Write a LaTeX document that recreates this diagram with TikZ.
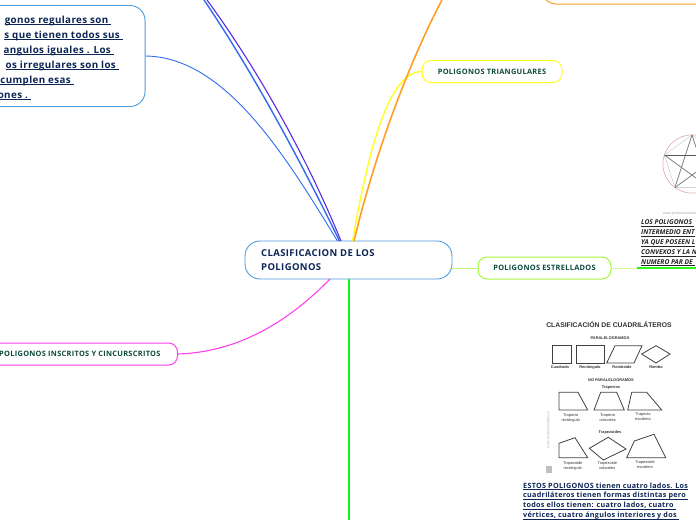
\documentclass[tikz,border=0pt]{standalone}
\usepackage{fontspec}
\usetikzlibrary{calc}
\setmainfont{Open Sans}
\newfontfamily\spacedfont[LetterSpace=4]{Open Sans}
\newfontfamily\imgfont{Liberation Sans}
\definecolor{edgeblue}{HTML}{4F9BD9}
\definecolor{linkblue}{HTML}{2F6BF0}
\definecolor{linkviolet}{HTML}{5A2BE6}
\definecolor{linkorange}{HTML}{FF9E24}
\definecolor{linkyellow}{HTML}{FFFF22}
\definecolor{linklime}{HTML}{A2F53C}
\definecolor{linkpink}{HTML}{FF40EE}
\definecolor{linkgreen}{HTML}{11F51A}
\definecolor{navytext}{HTML}{0C2555}
\definecolor{pinetext}{HTML}{0D4A3C}
\def\ultxt#1{\setbox0\hbox{#1}\rlap{\vrule width\wd0 height-1.3pt depth2pt}\box0}
\tikzset{
  mainbox/.style={draw=edgeblue,fill=white,rounded corners=15pt,line width=.9pt,inner sep=0pt},
  subbox/.style={fill=white,rounded corners=9pt,line width=1pt,minimum height=22pt,inner sep=0pt,
    text=pinetext,font=\spacedfont\bfseries\fontsize{7.4}{9}\selectfont},
  noteline/.style={inner sep=0pt,text=navytext,font=\spacedfont\bfseries\fontsize{9.8}{10}\selectfont},
  picline/.style={draw=black!75,line width=.8pt},
  piclabel/.style={inner sep=0pt,align=center,text=black!80,font=\imgfont\fontsize{3.9}{5}\selectfont},
}
\begin{document}
\begin{tikzpicture}[x=1pt,y=-1pt]
\useasboundingbox (0,0) rectangle (696,520);
\clip (0,0) rectangle (696,520);
\node[mainbox,minimum width=207pt,minimum height=38pt] (cen) at (348.5,260) {};
\node[anchor=west,inner sep=0pt,align=left,text=navytext,font=\spacedfont\bfseries\fontsize{9.5}{14.3}\selectfont] (centxt) at (261,260) {CLASIFICACION DE LOS\\POLIGONOS};
\node[mainbox,minimum width=200pt,minimum height=101pt,anchor=east] (regu) at (145.5,56) {};
\foreach \n/\ya/\xa/\tx in {a/23/111.5/gonos regulares son,b/38/123/s que tienen todos sus,c/53/114/angulos iguales . Los,d/68/119/os irregulares son los,e/83/74/cumplen esas,f/98/31/ones .}
  \node[noteline,anchor=base east] (regu\n) at (\xa,\ya) {\ultxt{\tx\ifx\n f\else\ \fi}};
\node[subbox,draw=linkyellow,minimum width=140pt] (trian) at (492,71.5) {POLIGONOS TRIANGULARES};
\node[subbox,draw=linklime,minimum width=133pt] (estre) at (544.5,268) {POLIGONOS ESTRELLADOS};
\node[subbox,draw=linkpink,inner xsep=17pt,anchor=east] (insc) at (178,354) {POLIGONOS INSCRITOS Y CINCURSCRITOS};
\node[draw=linkorange,fill=white,rounded corners=15pt,line width=1pt,minimum width=260pt,minimum height=60pt,anchor=south west] (arriba) at (541,4.5) {};
% enlaces
\coordinate (bluea) at (337.5,241);
\coordinate (blueb) at (339.5,241);
\coordinate (bluec) at (341,241);
\coordinate (yela) at (352.5,241);
\coordinate (oraa) at (354,241);
\coordinate (pinka) at (330,279);
\coordinate (gra) at (348.5,279);
\coordinate (topb) at (204,0);
\coordinate (topc) at (207,0);
\coordinate (topd) at (442,0);
\coordinate (bot) at (348.5,520);
\coordinate (starb) at (637,268);
\coordinate (stare) at (696,268);
\draw[linkblue,line width=.9pt] (regu.east) .. controls (225,57) and (285,155) .. (bluea);
\draw[linkblue,line width=1.4pt] (blueb) .. controls (305,170) and (255,75) .. (topb);
\draw[linkviolet,line width=1.1pt] (bluec) .. controls (310,165) and (262,75) .. (topc);
\draw[linkyellow,line width=1.4pt] (yela) .. controls (365,170) and (385,72) .. (trian.west);
\draw[linkorange,line width=1.6pt] (oraa) .. controls (372,165) and (405,70) .. (topd);
\draw[linkpink,line width=1.1pt] (insc.east) .. controls (240,352) and (290,320) .. (pinka);
\draw[linkgreen,line width=2pt] (gra) -- (bot);
\draw[linklime!70!white,line width=1pt] (cen.east |- estre.west) -- (estre.west);
\draw[linklime!50!white,line width=1pt] (estre.east) -- (starb);
\draw[linkgreen!85!lime,line width=1.4pt] (starb) -- (stare);
% estrella
\def\R{29.1}
\coordinate (pc) at (692,164);
\foreach \p/\ang in {pa/90,pb/162,pd/234,pe/306,pg/18}
  \coordinate (\p) at ($(pc)+({\R*cos(\ang)},{-\R*sin(\ang)})$);
\draw[red!60!black!30,line width=.7pt] (pc) circle (\R);
\draw[black!18,line width=.6pt] (pa) -- (pb) -- (pd) -- (pe) -- (pg) -- cycle;
\draw[black!50,line width=.8pt] (pa) -- (pd);
\draw[black!65,line width=.8pt] (pb) -- (pg);
\draw[black!50,line width=.8pt] (pb) -- (pe);
\draw[black!50,line width=.8pt] (pa) -- (pe) (pd) -- (pg);
\node[anchor=west,inner sep=0pt,text=black!35,font=\imgfont\fontsize{3.6}{4}\selectfont] (pcap) at (663,214) {www.profesorenlinea};
\foreach \n/\ya/\tx in {a/224.5/LOS POLIGONOS ,b/234.5/INTERMEDIO ENT,c/244.5/YA QUE POSEEN L,d/254.5/CONVEXOS Y  LA N,e/264/NUMERO PAR DE }
  \node[noteline,anchor=base west,font=\bfseries\itshape\fontsize{6.7}{9}\selectfont,text=black!85] (estr\n) at (641,\ya) {\ultxt{\tx}};
% cuadrilateros
\node[inner sep=0pt,text=black!80,font=\imgfont\bfseries\fontsize{6.8}{8}\selectfont] (ctit) at (609,325) {CLASIFICACIÓN DE CUADRILÁTEROS};
\node[piclabel,font=\imgfont\bfseries\fontsize{3.9}{5}\selectfont] (cpar) at (610,338.5) {PARALELOGRAMOS};
\draw[picline] (552,345) rectangle (571,363);
\draw[picline] (576,345) rectangle (604,363);
\draw[picline] (606.7,363) -- (615,345.7) -- (642,345.7) -- (634,363) -- cycle;
\draw[picline] (641.7,354) -- (656,345.7) -- (670,354) -- (656,363) -- cycle;
\foreach \n/\xa/\tx in {a/560/Cuadrado,b/590/Rectángulo,c/622/Romboide,d/656/Rombo}
  \node[piclabel,font=\imgfont\bfseries\fontsize{3.9}{5}\selectfont] (cl\n) at (\xa,367) {\tx};
\node[piclabel,font=\imgfont\bfseries\fontsize{3.9}{5}\selectfont] (cnop) at (611,380) {NO PARALELOGRAMOS};
\node[piclabel,font=\imgfont\bfseries\fontsize{3.9}{5}\selectfont] (ctra) at (611,387.5) {Trapecios};
\draw[picline] (559,410) -- (559,392.3) -- (578,392.3) -- (587.7,410) -- cycle;
\draw[picline] (594,410) -- (600.7,392.3) -- (616.7,392.3) -- (624.3,410) -- cycle;
\draw[picline] (627.7,410) -- (631.7,392.3) -- (646.7,392.3) -- (661.7,410) -- cycle;
\node[piclabel] (tra) at (570.7,417.5) {Trapecio\\rectángulo};
\node[piclabel] (trb) at (607.7,417.5) {Trapecio\\isósceles};
\node[piclabel] (trc) at (643,416.5) {Trapecio\\escaleno};
\node[piclabel,font=\imgfont\bfseries\fontsize{3.9}{5}\selectfont] (ctrz) at (610,432.7) {Trapezoides};
\draw[picline] (559,457.7) -- (559,443.3) -- (575,437.7) -- (587.7,457.7) -- cycle;
\draw[picline] (589.3,448.3) -- (608.3,437.3) -- (626,449) -- (603.3,460) -- cycle;
\draw[picline] (626.7,457.7) -- (634.3,441) -- (654,434.3) -- (665.7,457.7) -- cycle;
\node[piclabel] (tza) at (572.7,465.7) {Trapezoide\\rectángulo};
\node[piclabel] (tzb) at (607.3,465.7) {Trapezoide\\isósceles};
\node[piclabel] (tzc) at (645,465) {Trapezoide\\escaleno};
\node[rotate=90,inner sep=0pt,text=black!30,font=\imgfont\fontsize{3.6}{4}\selectfont] (cweb) at (548.5,430) {www.profesorenlinea.cl};
\fill[black!25] (545.5,466) rectangle (551.5,473);
% texto cuadrilateros
\foreach \n/\ya/\tx in {a/488/{ESTOS POLIGONOS  tienen  cuatro lados. Los},b/497.5/{cuadriláteros tienen formas distintas pero },c/507.5/{todos ellos tienen: cuatro lados, cuatro },d/517.5/{vértices, cuatro ángulos interiores y dos }}
  \node[noteline,anchor=base west,font=\spacedfont\bfseries\fontsize{7.2}{9}\selectfont] (cua\n) at (523,\ya) {\ultxt{\tx}};
\end{tikzpicture}
\end{document}
